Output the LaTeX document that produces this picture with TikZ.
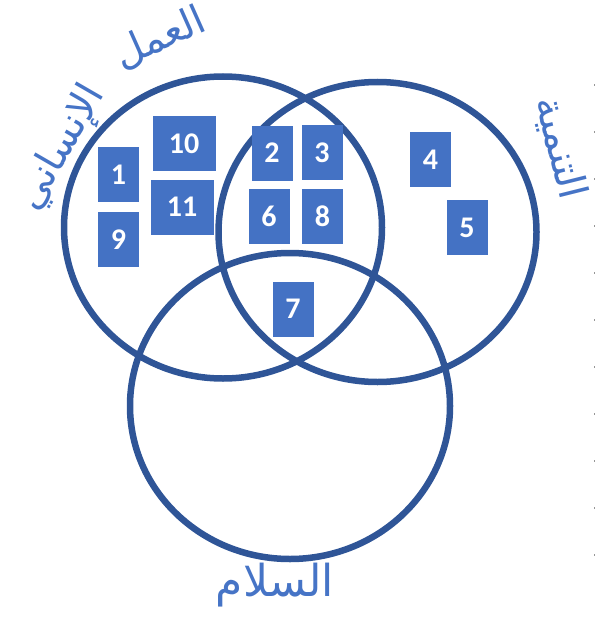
\documentclass[tikz,border=0pt]{standalone}
\usepackage{fontspec}
\setmainfont{Carlito}
\newfontfamily\arabicfont[Script=Arabic]{DejaVu Sans}
\TeXXeTstate=1
\usetikzlibrary{positioning}
\definecolor{VDring}{RGB}{47,85,151}
\definecolor{VDbox}{RGB}{68,114,196}
\definecolor{VDlabel}{RGB}{70,116,198}
\definecolor{VDtick}{RGB}{150,150,150}
\tikzset{
  ring/.style={draw=VDring,line width=6.5pt},
  item/.style={fill=VDbox,text=white,font=\fontsize{30}{30}\selectfont\bfseries,
               minimum width=41pt,minimum height=55pt,inner sep=0pt},
  wideitem/.style={item,minimum width=63pt},
  setlabel/.style={text=VDlabel,font=\arabicfont\fontsize{40}{40}\selectfont,inner sep=0pt},
  edgetick/.style={draw=VDtick,line width=0.8pt,dash pattern=on 2pt off 45pt}
}

\begin{document}
\begin{tikzpicture}[x=1pt,y=-1pt]
  \useasboundingbox (0,0) rectangle (597,618);
  % the three sets
  \draw[ring] (223,227.5) ellipse [x radius=159pt,y radius=151pt];
  \draw[ring] (377.5,232) ellipse [x radius=159pt,y radius=150pt];
  \draw[ring] (290,406) ellipse [x radius=160pt,y radius=153pt];
  % set names
  \node[setlabel,rotate=24] (hum1) at (160,38) {\beginR العمل\endR};
  \node[setlabel,rotate=60] (hum2) at (62,148) {\beginR الإنساني\endR};
  \node[setlabel,rotate=-76] (dev) at (560,148) {\beginR التنمية\endR};
  \node[setlabel,scale=1.1] (peace) at (275,585) {\beginR السلام\endR};
  % numbered items
  \node[item] (b1) at (118.5,174.5) {1};
  \node[item] (b9) at (118.5,239.5) {9};
  \node[wideitem] (b10) at (184,143.5) {10};
  \node[wideitem] (b11) at (182,207) {11};
  \node[item] (b2) at (272,153) {2};
  \node[item] (b3) at (322,152.5) {3};
  \node[item] (b6) at (269,216) {6};
  \node[item] (b8) at (322.5,216) {8};
  \node[item] (b7) at (293,309) {7};
  \node[item] (b4) at (430.5,159.5) {4};
  \node[item] (b5) at (467,227.5) {5};
  % faint edge marks
  \draw[edgetick] (594,84) -- (594,560);
\end{tikzpicture}
\end{document}
